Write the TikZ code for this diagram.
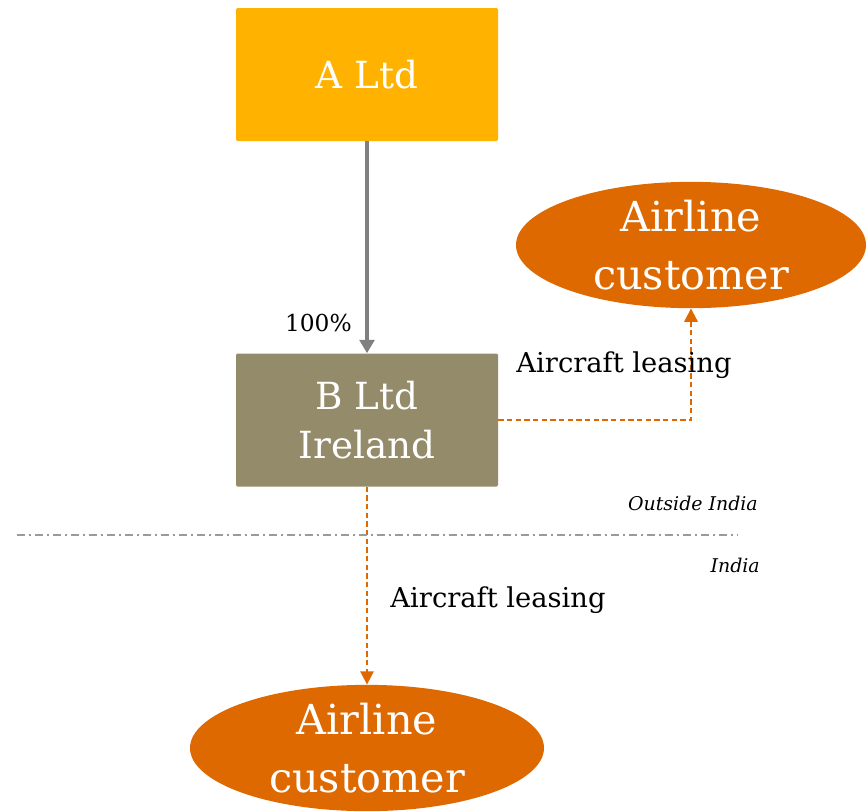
\documentclass[tikz,border=0pt]{standalone}
\usepackage{fontspec}
\setmainfont{DejaVu Serif}
\usetikzlibrary{arrows.meta,shapes.geometric}
\definecolor{aorange}{HTML}{FFB300}
\definecolor{bolive}{HTML}{948B6A}
\definecolor{eorange}{HTML}{DD6900}
\definecolor{lgray}{HTML}{808080}
\tikzset{
  box/.style={draw=none,rounded corners=1pt,minimum width=196.5pt,minimum height=99.75pt,text=white,align=center,inner sep=0pt},
  oval/.style={ellipse,fill=eorange,text=white,align=center,inner sep=0pt},
  lease/.style={eorange,line width=1.4pt,dash pattern=on 4pt off 2.5pt,-{Triangle[length=10pt,width=10pt]}},
  lbl/.style={font=\fontsize{20.5}{22}\selectfont,text=black,inner sep=0pt},
  region/.style={font=\fontsize{14.2}{16}\selectfont\itshape,inner sep=0pt}
}
\begin{document}
\begin{tikzpicture}[x=0.75pt,y=-0.75pt]
\useasboundingbox (0,0) rectangle (866,811);
\begin{scope}
\clip (0,0) rectangle (866,811);
\node[box,fill=aorange,font=\fontsize{28}{32}\selectfont] (a) at (367,74.5) {A Ltd};
\node[box,fill=bolive,font=\fontsize{28}{37}\selectfont] (b) at (367,420) {B Ltd\\Ireland};
\node[oval,minimum width=262.5pt,minimum height=94.5pt,font=\fontsize{31}{43}\selectfont] (c1) at (691,245) {Airline\\customer};
\node[oval,minimum width=265.5pt,minimum height=93pt,font=\fontsize{31}{43}\selectfont] (c2) at (367,748) {Airline\\customer};
\end{scope}
\draw[lgray,line width=2.5pt,-{Triangle[length=10pt,width=11pt]}] (a.south) -- (b.north);
\node[lbl,font=\fontsize{17.5}{20}\selectfont,anchor=east] (pct) at (352,323) {100\%};
\coordinate (turn) at (691,420);
\draw[lease] (b.east |- turn) -- (turn) -- (c1.south);
\draw[lease] (b.south) -- (c2.north);
\node[lbl] (l1) at (624,365) {Aircraft leasing};
\node[lbl] (l2) at (498,600) {Aircraft leasing};
\coordinate (d1) at (17,535);
\coordinate (d2) at (738,535);
\draw[lgray!80,line width=1pt,dash pattern=on 6pt off 3pt on 1.5pt off 3pt] (d1) -- (d2);
\node[region,anchor=east] (out) at (758,503) {Outside India};
\node[region,anchor=east] (in) at (760,565) {India};
\end{tikzpicture}
\end{document}
